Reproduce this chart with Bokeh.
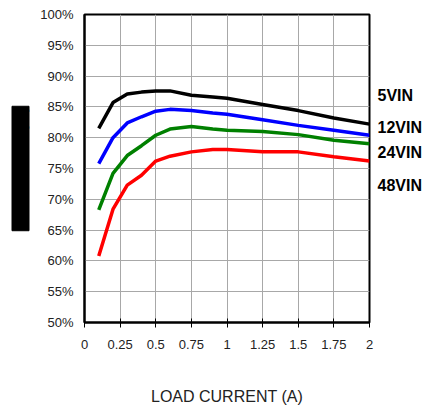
from bokeh.plotting import figure
from bokeh.models import FixedTicker, Range1d, LinearAxis, Title
from bokeh.embed import file_html
from bokeh.resources import INLINE

# ---- data ----
load_current = [0.1, 0.2, 0.3, 0.4, 0.5, 0.6, 0.75, 0.9, 1.0, 1.25, 1.5, 1.75, 2.0]
eff_5vin  = [81.5, 85.7, 87.1, 87.4, 87.6, 87.6, 86.9, 86.6, 86.4, 85.4, 84.4, 83.2, 82.2]
eff_12vin = [75.8, 80.0, 82.4, 83.4, 84.3, 84.6, 84.4, 84.0, 83.8, 82.9, 82.0, 81.2, 80.4]
eff_24vin = [68.3, 74.2, 77.1, 78.7, 80.4, 81.4, 81.8, 81.4, 81.2, 81.0, 80.5, 79.6, 79.0]
eff_48vin = [60.8, 68.4, 72.3, 73.9, 76.2, 77.0, 77.7, 78.1, 78.1, 77.7, 77.7, 76.9, 76.2]

series_names = ["5VIN", "12VIN", "24VIN", "48VIN"]
series_colors = ["#000000", "#0000ff", "#008000", "#ff0000"]
label_y = [86.9, 81.7, 77.6, 72.3]

x_ticks = [0, 0.25, 0.5, 0.75, 1, 1.25, 1.5, 1.75, 2]
x_tick_labels = ["0", "0.25", "0.5", "0.75", "1", "1.25", "1.5", "1.75", "2"]
y_ticks = [50, 55, 60, 65, 70, 75, 80, 85, 90, 95, 100]
y_tick_labels = ["50%", "55%", "60%", "65%", "70%", "75%", "80%", "85%", "90%", "95%", "100%"]

W, H = 428, 400
p = figure(width=W, height=H, output_backend="svg", toolbar_location=None,
           x_range=Range1d(0, 2), y_range=Range1d(50, 100),
           min_border_left=84, min_border_right=59, min_border_top=14, min_border_bottom=78)
p.frame_width = 285
p.frame_height = 308

p.background_fill_color = "white"
p.border_fill_color = "white"
p.outline_line_color = "black"
p.outline_line_width = 2

for ys, col in zip([eff_5vin, eff_12vin, eff_24vin, eff_48vin], series_colors):
    p.line(load_current, ys, line_color=col, line_width=3.5)

# axes
p.xaxis.ticker = FixedTicker(ticks=x_ticks)
p.xaxis.major_label_overrides = {t: l for t, l in zip(x_ticks, x_tick_labels)}
p.yaxis.ticker = FixedTicker(ticks=y_ticks)
p.yaxis.major_label_overrides = {t: l for t, l in zip(y_ticks, y_tick_labels)}
for ax in (p.xaxis, p.yaxis):
    ax.axis_line_color = "black"
    ax.axis_line_width = 2
    ax.major_label_text_font = "Liberation Sans"
    ax.major_label_text_font_size = "13px"
    ax.major_label_text_color = "#222222"
    ax.minor_tick_line_color = None
p.xaxis.major_tick_in = 4
p.xaxis.major_tick_out = 5
p.xaxis.major_tick_line_color = "black"
p.xaxis.major_label_standoff = 12
p.yaxis.major_tick_in = 0
p.yaxis.major_tick_out = 0
p.yaxis.major_label_standoff = 11

p.xaxis.axis_label = "LOAD CURRENT (A)"
p.xaxis.axis_label_text_font = "Liberation Sans"
p.xaxis.axis_label_text_font_size = "16px"
p.xaxis.axis_label_text_font_style = "normal"
p.xaxis.axis_label_text_color = "#222222"
p.xaxis.axis_label_standoff = 36

p.grid.grid_line_color = "#a8a8a8"
p.grid.grid_line_width = 1
p.xgrid.ticker = FixedTicker(ticks=x_ticks)
p.ygrid.ticker = FixedTicker(ticks=y_ticks)

# series labels as a right-side axis
right_axis = LinearAxis(ticker=FixedTicker(ticks=label_y),
                        major_label_overrides={y: n for y, n in zip(label_y, series_names)})
right_axis.axis_line_color = None
right_axis.major_tick_line_color = None
right_axis.minor_tick_line_color = None
right_axis.major_tick_in = 0
right_axis.major_tick_out = 0
right_axis.major_label_standoff = 8
right_axis.major_label_text_font = "Liberation Sans"
right_axis.major_label_text_font_size = "16px"
right_axis.major_label_text_font_style = "bold"
right_axis.major_label_text_color = "black"
p.add_layout(right_axis, "right")

# redacted y-axis title (black block)
p.add_layout(Title(text="EFFICIENCY (%)", align="center",
                   text_font="Liberation Sans", text_font_size="16px",
                   text_color="black", background_fill_color="black",
                   border_line_color="black", padding=0, standoff=17), "left")

open("out.html", "w").write(file_html(p, INLINE))
